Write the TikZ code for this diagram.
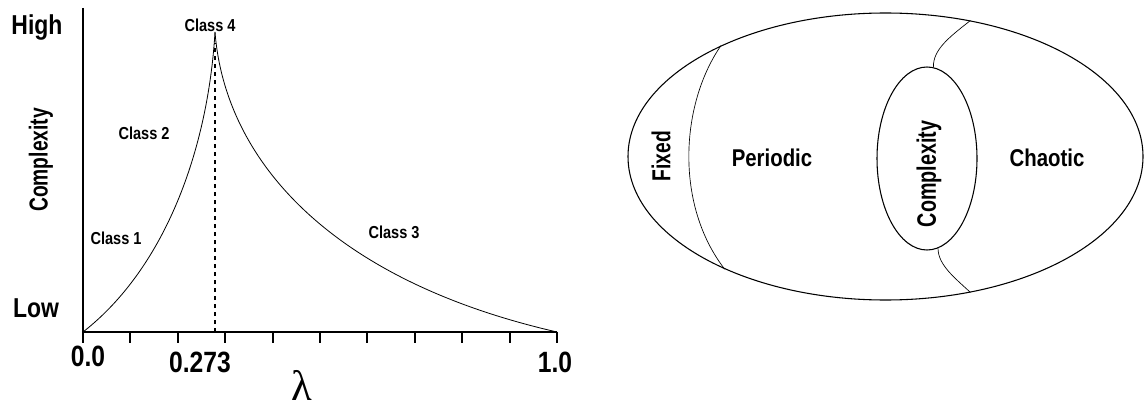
\documentclass[tikz,border=0pt]{standalone}
\usepackage{fontspec}
\setmainfont{Liberation Sans}[FakeStretch=0.84]
\newfontfamily\narrowfont{Liberation Sans}[FakeStretch=0.74]
\newfontfamily\lamfont{Liberation Serif}
\usetikzlibrary{shapes.geometric}

\begin{document}
\begin{tikzpicture}[x=0.75pt,y=-0.75pt,
  classlbl/.style={font=\bfseries\fontsize{13}{15}\selectfont,inner sep=0pt},
  biglbl/.style={font=\bfseries\fontsize{20.5}{23}\selectfont,inner sep=0pt},
  ticklbl/.style={font=\bfseries\fontsize{22}{25}\selectfont,inner sep=0pt},
  regionlbl/.style={font=\bfseries\fontsize{18.2}{20}\selectfont,inner sep=0pt},
  narrowlbl/.style={font=\narrowfont\bfseries\fontsize{19.5}{21}\selectfont,inner sep=0pt,rotate=90},
  region/.style={ellipse,draw,line width=0.8pt,inner sep=0pt}]
  \useasboundingbox (0,0) rectangle (1145,406);
  % left: complexity against lambda
  \coordinate (o) at (83,332);
  \coordinate (ytop) at (83,8);
  \coordinate (xend) at (557,332);
  \coordinate (pk) at (215,32);
  \coordinate (pkfoot) at (215,332);
  \draw[line width=1.6pt] (ytop) -- (o) -- (xend);
  \foreach \i in {0,...,10}
    \draw[line width=1.6pt] (83+47.4*\i,332) -- ++(0,11);
  \draw[line width=1.5pt,dash pattern=on 3pt off 3pt] (pkfoot) -- ([yshift=-8pt]pk);
  \draw[line width=0.6pt] (o) .. controls (165,268) and (208,150) .. (pk);
  \draw[line width=0.6pt] (pk) .. controls (225,160) and (330,280) .. (xend);
  \node[biglbl] (high) at (37,27) {High};
  \node[biglbl] (low) at (36,308) {Low};
  \node[narrowlbl] (cplx) at (41,160) {Complexity};
  \node[classlbl] (cl1) at (116,238) {Class 1};
  \node[classlbl] (cl2) at (144,133) {Class 2};
  \node[classlbl] (cl3) at (394,232) {Class 3};
  \node[classlbl] (cl4) at (210,25) {Class 4};
  \node[ticklbl] (t0) at (88,356) {0.0};
  \node[ticklbl] (tc) at (200,362) {0.273};
  \node[ticklbl] (t1) at (555,362) {1.0};
  \node[inner sep=0pt,anchor=north,font=\lamfont\fontsize{32}{32}\selectfont] (lam) at (302,370) {λ};
  % right: regimes
  \node[region,minimum width=386.25pt,minimum height=215.25pt] (outer) at (885.5,156.5) {};
  \node[region,minimum width=75pt,minimum height=137.25pt] (core) at (927,158.5) {};
  \draw[line width=0.5pt] (outer.146) .. controls (680,105) and (675,205) .. (outer.215);
  \draw[line width=0.5pt] (outer.58.7) .. controls (948,38) and (933,50) .. (core.86);
  \draw[line width=0.5pt] (core.277) .. controls (938,265) and (955,278) .. (outer.302);
  \node[narrowlbl,font=\narrowfont\bfseries\fontsize{19.5}{21}\selectfont] (fixed) at (661,156) {Fixed};
  \node[regionlbl] (periodic) at (772,158) {Periodic};
  \node[regionlbl] (chaotic) at (1047,158) {Chaotic};
  \node[narrowlbl,font=\narrowfont\bfseries\fontsize{20}{22}\selectfont] (edge) at (929,174) {Complexity};
\end{tikzpicture}
\end{document}
